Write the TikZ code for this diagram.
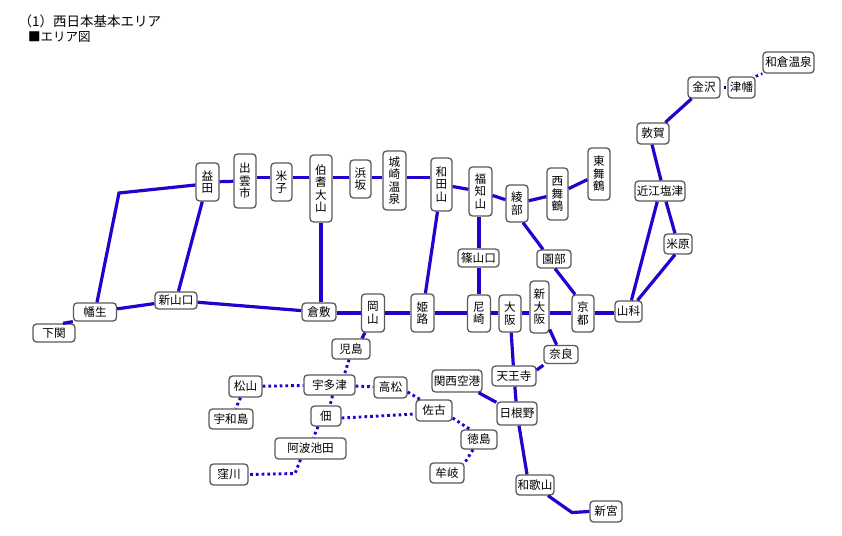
\documentclass[tikz,border=0pt]{standalone}
\usepackage{fontspec}
\setmainfont{Noto Sans CJK JP}
\definecolor{linkblue}{RGB}{40, 0, 205}
\definecolor{boxgray}{RGB}{90, 90, 90}
\tikzset{
  stn/.style={draw=boxgray, fill=white, line width=1.3pt, rounded corners=3.5pt, inner sep=0pt, align=center, font=\fontsize{11.6}{12.5}\selectfont},
  trunk/.style={draw=linkblue, line width=3.2pt},
  branch/.style={draw=linkblue, line width=2.9pt, dash pattern=on 2.7pt off 3pt}
}
\begin{document}
\begin{tikzpicture}[x=1pt, y=-1pt]
  \useasboundingbox (0,0) rectangle (842,535);

  % Heading
  \node[font=\fontsize{13.5}{16}\selectfont, anchor=west, inner sep=0pt] (heading) at (18.5,21) {（1）西日本基本エリア};
  \node[font=\fontsize{12.5}{16}\selectfont, anchor=west, inner sep=0pt] (subheading) at (28,37.5) {■エリア図};

  % Helper heights of the two straight rows
  \coordinate (sanin) at (0,177.5);
  \coordinate (sanyo) at (0,313);
  \coordinate (hatabubend) at (119,193);
  \coordinate (kubokawabend) at (295,473.5);
  \coordinate (shingubend) at (572,512.5);

  % West
  \node[stn, minimum width=42pt, minimum height=18pt] (shimonoseki) at (54,333) {下関};
  \node[stn, minimum width=43pt, minimum height=18pt] (hatabu) at (95,312) {幡生};
  \node[stn, minimum width=42pt, minimum height=17pt] (shinyamaguchi) at (176,300.5) {新山口};
  \node[stn, minimum width=23pt, minimum height=38pt] (masuda) at (207.5,182) {益\\田};
  \node[stn, minimum width=22pt, minimum height=54pt] (izumo) at (245,181) {出\\雲\\市};
  \node[stn, minimum width=21pt, minimum height=38pt] (yonago) at (281.5,182) {米\\子};
  \node[stn, minimum width=22pt, minimum height=67pt] (hoki) at (321,188.5) {伯\\耆\\大\\山};
  \node[stn, minimum width=21pt, minimum height=38pt] (hamasaka) at (360.5,179) {浜\\坂};
  \node[stn, minimum width=23pt, minimum height=59pt] (kinosaki) at (394.5,180.5) {城\\崎\\温\\泉};
  \node[stn, minimum width=34pt, minimum height=18pt] (kurashiki) at (319,312) {倉敷};
  \node[stn, minimum width=23pt, minimum height=38pt] (okayama) at (373,313) {岡\\山};
  \node[stn, minimum width=38pt, minimum height=20pt] (kojima) at (351,349) {児島};

  % Kinki
  \node[stn, minimum width=21pt, minimum height=53pt] (wadayama) at (441.5,184.5) {和\\田\\山};
  \node[stn, minimum width=23pt, minimum height=38pt] (himeji) at (422.5,313) {姫\\路};
  \node[stn, minimum width=23pt, minimum height=49pt] (fukuchiyama) at (480.5,191.5) {福\\知\\山};
  \node[stn, minimum width=22pt, minimum height=37pt] (ayabe) at (517,203.5) {綾\\部};
  \node[stn, minimum width=21pt, minimum height=52pt] (nishimaizuru) at (557.5,194) {西\\舞\\鶴};
  \node[stn, minimum width=22pt, minimum height=52pt] (higashimaizuru) at (599,174) {東\\舞\\鶴};
  \node[stn, minimum width=41pt, minimum height=18pt] (sasayama) at (478.5,258) {篠山口};
  \node[stn, minimum width=34pt, minimum height=18pt] (sonobe) at (554,259) {園部};
  \node[stn, minimum width=23pt, minimum height=37pt] (amagasaki) at (479,313.5) {尼\\崎};
  \node[stn, minimum width=22pt, minimum height=37pt] (osaka) at (510,313.5) {大\\阪};
  \node[stn, minimum width=19pt, minimum height=52pt] (shinosaka) at (539.5,307) {新\\大\\阪};
  \node[stn, minimum width=22pt, minimum height=37pt] (kyoto) at (583,313.5) {京\\都};
  \node[stn, minimum width=27pt, minimum height=21pt] (yamashina) at (628.5,311.5) {山科};
  \node[stn, minimum width=34pt, minimum height=18pt] (nara) at (561,354.5) {奈良};
  \node[stn, minimum width=44pt, minimum height=20pt] (tennoji) at (514,376) {天王寺};
  \node[stn, minimum width=50pt, minimum height=22pt] (kanku) at (457,381) {関西空港};
  \node[stn, minimum width=40pt, minimum height=23pt] (hineno) at (517,413.5) {日根野};
  \node[stn, minimum width=38pt, minimum height=20pt] (wakayama) at (535,485) {和歌山};
  \node[stn, minimum width=32pt, minimum height=21pt] (shingu) at (606,511.5) {新宮};

  % Hokuriku
  \node[stn, minimum width=50pt, minimum height=20pt] (omishiotsu) at (660,191) {近江塩津};
  \node[stn, minimum width=28pt, minimum height=20pt] (maibara) at (678,244) {米原};
  \node[stn, minimum width=32pt, minimum height=21pt] (tsuruga) at (653,133.5) {敦賀};
  \node[stn, minimum width=32pt, minimum height=21pt] (kanazawa) at (704,87.5) {金沢};
  \node[stn, minimum width=27pt, minimum height=21pt] (tsubata) at (741.5,87.5) {津幡};
  \node[stn, minimum width=51pt, minimum height=21pt] (wakura) at (788.5,62.5) {和倉温泉};

  % Shikoku
  \node[stn, minimum width=33pt, minimum height=21pt] (matsuyama) at (245.5,386.5) {松山};
  \node[stn, minimum width=44pt, minimum height=20pt] (uwajima) at (231,419) {宇和島};
  \node[stn, minimum width=51pt, minimum height=20pt] (utazu) at (329.5,385) {宇多津};
  \node[stn, minimum width=33pt, minimum height=21pt] (takamatsu) at (390.5,387.5) {高松};
  \node[stn, minimum width=36pt, minimum height=21pt] (sako) at (434,410.5) {佐古};
  \node[stn, minimum width=30pt, minimum height=20pt] (tsukuda) at (326,416) {佃};
  \node[stn, minimum width=71pt, minimum height=21pt] (awaikeda) at (310.5,448.5) {阿波池田};
  \node[stn, minimum width=38pt, minimum height=21pt] (kubokawa) at (229,474.5) {窪川};
  \node[stn, minimum width=36pt, minimum height=19pt] (tokushima) at (479,439.5) {徳島};
  \node[stn, minimum width=34pt, minimum height=20pt] (muki) at (447,473) {牟岐};

  % Straight rows
  \foreach \a/\b in {izumo/yonago, yonago/hoki, hoki/hamasaka, hamasaka/kinosaki, kinosaki/wadayama}
    \draw[trunk] (\a.east |- sanin) -- (\b.west |- sanin);
  \foreach \a/\b in {kurashiki/okayama, okayama/himeji, himeji/amagasaki, amagasaki/osaka, osaka/shinosaka, shinosaka/kyoto, kyoto/yamashina}
    \draw[trunk] (\a.east |- sanyo) -- (\b.west |- sanyo);

  % Solid lines
  \draw[trunk] ([xshift=9pt]shimonoseki.north) -- (hatabu.south west);
  \draw[trunk] ([xshift=2pt]hatabu.north) -- (hatabubend) -- ([yshift=-3pt]masuda.west);
  \draw[trunk] (hatabu) -- (shinyamaguchi);
  \draw[trunk] (shinyamaguchi) -- (masuda);
  \draw[trunk] (shinyamaguchi) -- (kurashiki);
  \draw[trunk] (masuda) -- (izumo);
  \draw[trunk] (hoki.south) -- (hoki.south |- kurashiki.north);
  \draw[trunk] ([xshift=-8pt]okayama.south) -- ([xshift=11pt]kojima.north);
  \draw[trunk] (wadayama) -- (himeji);
  \draw[trunk] (wadayama) -- (fukuchiyama);
  \draw[trunk] (fukuchiyama) -- (ayabe);
  \draw[trunk] (ayabe) -- (nishimaizuru);
  \draw[trunk] (nishimaizuru) -- (higashimaizuru);
  \draw[trunk] (amagasaki |- fukuchiyama.south) -- (amagasaki |- sasayama.north);
  \draw[trunk] (amagasaki |- sasayama.south) -- (amagasaki.north);
  \draw[trunk] ([xshift=6pt]ayabe.south) -- ([xshift=-11pt]sonobe.north);
  \draw[trunk] ([xshift=1pt]sonobe.south) -- ([xshift=-8pt]kyoto.north);
  \draw[trunk] (shinosaka) -- (nara);
  \draw[trunk] ([yshift=6pt]tennoji.east) -- ([yshift=-1pt]nara.south west);
  \draw[trunk] (osaka) -- (tennoji);
  \draw[trunk] (tennoji) -- (hineno);
  \draw[trunk] (kanku) -- (hineno);
  \draw[trunk] (hineno) -- ([xshift=-8pt]wakayama.north);
  \draw[trunk] ([xshift=13pt]wakayama.south) -- (shingubend) -- (shingu.west);
  \draw[trunk] (yamashina) -- (omishiotsu);
  \draw[trunk] ([xshift=9pt]yamashina.north) -- ([xshift=-3pt]maibara.south);
  \draw[trunk] (maibara) -- ([xshift=6pt]omishiotsu.south);
  \draw[trunk] ([xshift=1pt]omishiotsu.north) -- ([xshift=-1pt]tsuruga.south);
  \draw[trunk] (tsuruga) -- (kanazawa);

  % Dotted lines
  \draw[branch] ([xshift=-2pt]kojima.south) -- ([xshift=15pt]utazu.north);
  \draw[branch] (matsuyama) -- (utazu);
  \draw[branch] (matsuyama) -- (uwajima);
  \draw[branch] (utazu) -- (takamatsu);
  \draw[branch] ([yshift=-4.5pt]takamatsu.east) -- ([xshift=-14pt]sako.north);
  \draw[branch] ([xshift=3pt]utazu.south) -- ([xshift=4pt]tsukuda.north);
  \draw[branch] ([yshift=-2pt]tsukuda.east) -- ([yshift=-3.5pt]sako.west);
  \draw[branch] ([xshift=-8pt]tsukuda.south) -- ([xshift=3pt]awaikeda.north);
  \draw[branch] ([xshift=-10pt]awaikeda.south) -- (kubokawabend) -- (kubokawa.east);
  \draw[branch] ([yshift=-7.5pt]sako.east) -- ([xshift=-9pt]tokushima.north);
  \draw[branch] ([xshift=-6pt]tokushima.south) -- ([xshift=18pt]muki.north);
  \draw[branch, draw=linkblue!40!black, line width=2.4pt, dash pattern=on 0pt off 3pt on 2.4pt off 6pt] (kanazawa) -- (tsubata);
  \draw[branch, line width=2.6pt] (tsubata.north east) -- (wakura.south west);
\end{tikzpicture}
\end{document}
